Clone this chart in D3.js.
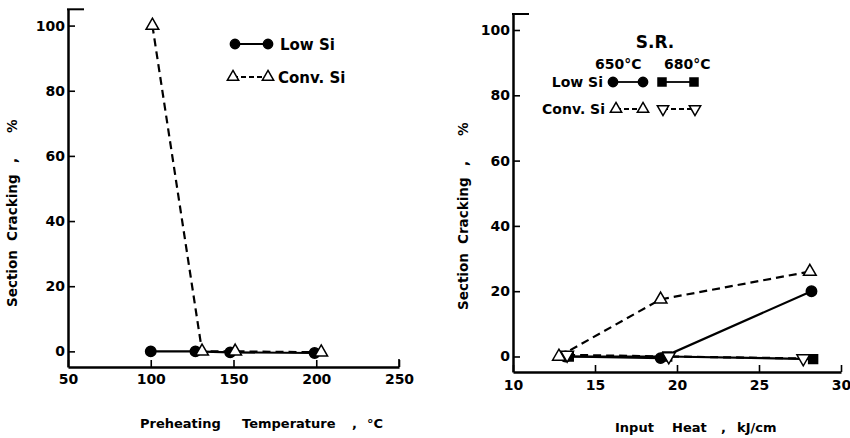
<!DOCTYPE html>
<html>
<head>
<meta charset="utf-8">
<script src="https://cdn.jsdelivr.net/npm/d3@7"></script>
<style>
  body { margin: 0; background: #fff; }
  svg { display: block; }
  text { font-family: "DejaVu Sans", sans-serif; font-weight: bold; fill: #000; }
</style>
</head>
<body>
<svg width="850" height="438"></svg>
<script>
// ---- data: left panel (preheating temperature) ----
const preheatLowSiX = [100, 127, 148, 199];
const preheatLowSiY = [0, 0, -0.3, -0.5];
const preheatConvSiX = [101, 131, 151, 203];
const preheatConvSiY = [100, 0, 0, -0.3];
const preheatTicksX = [50, 100, 150, 200, 250];

// ---- data: right panel (input heat) ----
const heatLow650X = [13.2, 19.0, 28.2];
const heatLow650Y = [0, -0.5, 20];
const heatConv650X = [12.8, 19.0, 28.1];
const heatConv650Y = [0, 17.5, 26];
const heatLow680X = [13.4, 19.4, 28.3];
const heatLow680Y = [0, 0, -0.8];
const heatConv680X = [13.3, 19.5, 27.7];
const heatConv680Y = [0.5, 0, -0.6];
const heatTicksX = [10, 15, 20, 25, 30];

const cracksTicksY = [0, 20, 40, 60, 80, 100];

const DASH = "8,5";
const LINE_W = 2.2;
const svg = d3.select("svg");

function zip(xs, ys) {
  return xs.map((x, i) => ({ x: x, y: ys[i] }));
}

function drawAxes(x, y, ticksX, padX) {
  const x0 = x.range()[0];
  const yTop = y.range()[1];

  const gy = svg.append("g")
    .attr("transform", "translate(" + x0 + ",0)")
    .call(d3.axisLeft(y).tickValues(cracksTicksY).tickSizeInner(-7).tickSizeOuter(0).tickPadding(3));
  const gx = svg.append("g")
    .attr("transform", "translate(0," + y.range()[0] + ")")
    .call(d3.axisBottom(x).tickValues(ticksX).tickSizeInner(-7).tickSizeOuter(0).tickPadding(padX));

  [gy, gx].forEach(g => {
    g.select(".domain").attr("stroke", "#000").attr("stroke-width", 2.5);
    g.selectAll(".tick line").attr("stroke", "#000").attr("stroke-width", 1.6);
    g.selectAll(".tick text").style("font-size", "14px").attr("fill", "#000");
  });

  // short cap at the top of the y axis
  svg.append("line")
    .attr("x1", x0 - 1).attr("x2", x0 + 16)
    .attr("y1", yTop).attr("y2", yTop)
    .attr("stroke", "#000").attr("stroke-width", 2);
}

function drawSeries(x, y, pts, dashed) {
  const line = d3.line().x(d => x(d.x)).y(d => y(d.y));
  svg.append("path")
    .datum(pts)
    .attr("d", line)
    .attr("fill", "none")
    .attr("stroke", "#000")
    .attr("stroke-width", LINE_W)
    .attr("stroke-dasharray", dashed ? DASH : null);
}

function drawMarkers(x, y, pts, kind) {
  svg.append("g").selectAll("path")
    .data(pts)
    .join("path")
    .attr("transform", d => marker(kind, x(d.x), y(d.y)))
    .attr("d", markerPath(kind, 1))
    .attr("fill", kind === "circle" || kind === "square" ? "#000" : "#fff")
    .attr("stroke", "#000")
    .attr("stroke-width", 1.5);
}

function marker(kind, px, py) {
  return "translate(" + px + "," + py + ")" + (kind === "down" ? " rotate(180)" : "");
}

function markerPath(kind, k) {
  if (kind === "circle") return d3.symbol(d3.symbolCircle, 85 * k)();
  if (kind === "square") return d3.symbol(d3.symbolSquare, 80 * k)();
  return d3.symbol(d3.symbolTriangle, 70 * k)();
}

function legendRow(kind, xa, xb, yy, dashed) {
  svg.append("line")
    .attr("x1", xa).attr("x2", xb).attr("y1", yy).attr("y2", yy)
    .attr("stroke", "#000").attr("stroke-width", 1.8)
    .attr("stroke-dasharray", dashed ? "5,3" : null);
  [xa, xb].forEach(px => {
    svg.append("path")
      .attr("transform", marker(kind, px, yy))
      .attr("d", markerPath(kind, 0.8))
      .attr("fill", kind === "circle" || kind === "square" ? "#000" : "#fff")
      .attr("stroke", "#000").attr("stroke-width", 1.5);
  });
}

function label(txt, px, py, size, anchor) {
  return svg.append("text")
    .attr("x", px).attr("y", py)
    .style("font-size", size + "px")
    .attr("text-anchor", anchor || "start")
    .text(txt);
}

function yTitle(cx, bottom) {
  const g = svg.append("g").attr("transform", "translate(" + cx + "," + bottom + ") rotate(-90)");
  const parts = [["Section", 0], ["Cracking", 66], [",", 144], ["%", 174]];
  parts.forEach(p => {
    g.append("text").attr("x", p[1]).attr("y", 0).style("font-size", "13.5px").text(p[0]);
  });
}

// ---------------- left panel ----------------
const xL = d3.scaleLinear().domain([50, 250]).range([68, 399]);
const yL = d3.scaleLinear().domain([-4.8, 105]).range([367, 9.3]);
drawAxes(xL, yL, preheatTicksX, 7);
svg.append("line")
  .attr("x1", xL(250)).attr("x2", xL(250))
  .attr("y1", yL.range()[0]).attr("y2", yL.range()[0] - 8)
  .attr("stroke", "#000").attr("stroke-width", 1.6);

drawSeries(xL, yL, zip(preheatConvSiX, preheatConvSiY), true);
drawSeries(xL, yL, zip(preheatLowSiX, preheatLowSiY), false);
drawMarkers(xL, yL, zip(preheatLowSiX, preheatLowSiY), "circle");
drawMarkers(xL, yL, zip(preheatConvSiX, preheatConvSiY), "up");

legendRow("circle", 235, 268, 44, false);
label("Low Si", 280, 50, 15);
legendRow("up", 233, 268, 77, true);
label("Conv. Si", 278, 83, 15);

label("Preheating", 140, 428, 13);
label("Temperature", 242, 428, 13);
label(",", 352, 428, 13);
label("°C", 367, 428, 13);
yTitle(17, 307);

// ---------------- right panel ----------------
const xR = d3.scaleLinear().domain([10, 30]).range([513, 841]);
const yR = d3.scaleLinear().domain([-4.75, 104.9]).range([372, 14]);
drawAxes(xR, yR, heatTicksX, 8);

drawSeries(xR, yR, zip(heatConv650X, heatConv650Y), true);
drawSeries(xR, yR, zip(heatConv680X, heatConv680Y), true);
drawSeries(xR, yR, zip(heatLow650X, heatLow650Y), false);
drawSeries(xR, yR, zip(heatLow680X, heatLow680Y), false);
drawMarkers(xR, yR, zip(heatLow650X, heatLow650Y), "circle");
drawMarkers(xR, yR, zip(heatLow680X, heatLow680Y), "square");
drawMarkers(xR, yR, zip(heatConv650X, heatConv650Y), "up");
drawMarkers(xR, yR, zip(heatConv680X, heatConv680Y), "down");

label("S.R.", 655, 48, 17, "middle");
label("650°C", 595, 69, 14);
label("680°C", 664, 69, 14);
label("Low Si", 603, 87, 14, "end");
legendRow("circle", 613, 643, 82, false);
legendRow("square", 662, 694, 82, false);
label("Conv. Si", 605, 114, 14, "end");
legendRow("up", 616, 643, 109, true);
legendRow("down", 663, 695, 109, true);

label("Input", 615, 432, 13);
label("Heat", 672, 432, 13);
label(",", 721, 432, 13);
label("kJ/cm", 737, 432, 13);
yTitle(468, 310);
</script>
</body>
</html>
